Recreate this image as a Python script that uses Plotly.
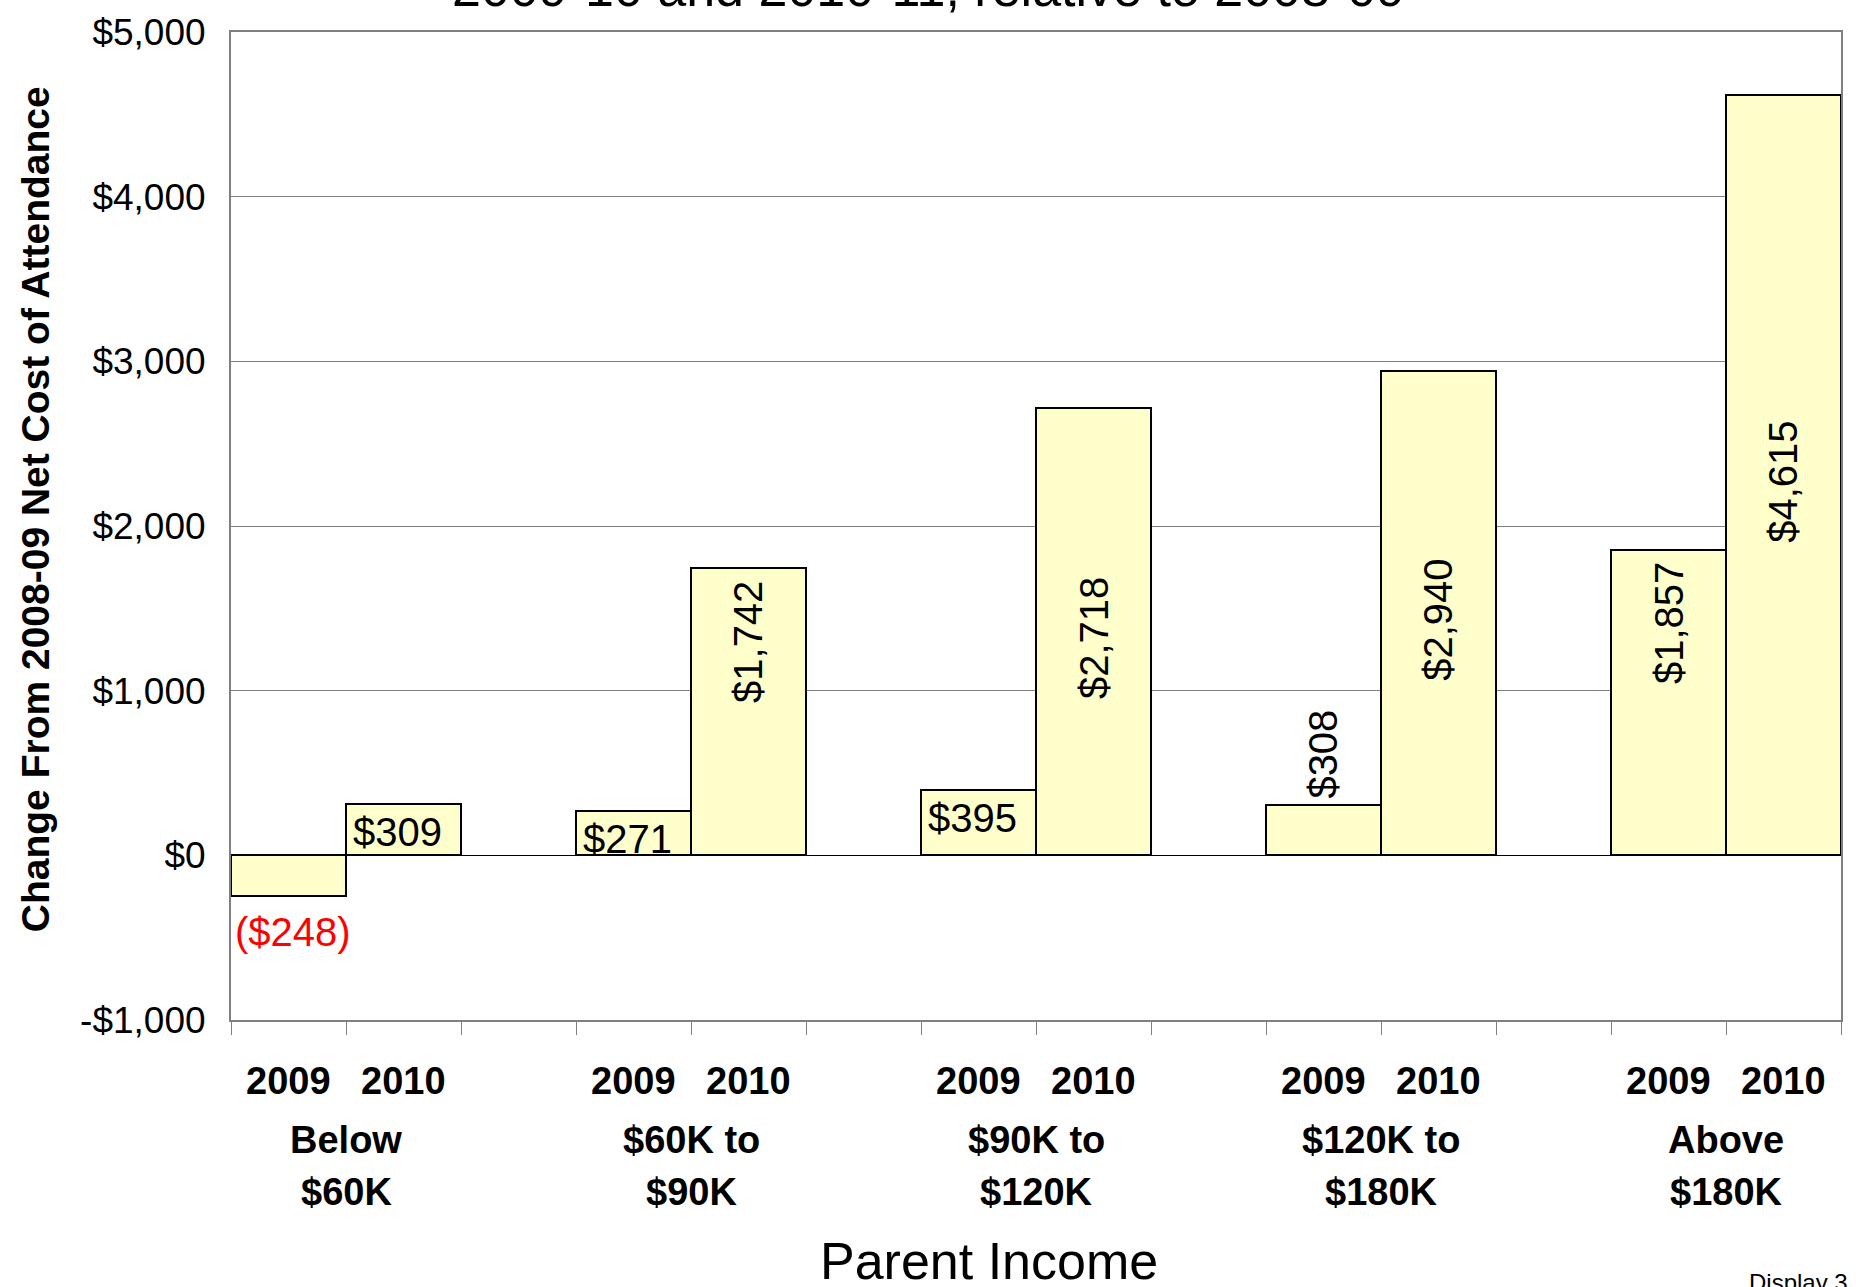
import plotly.graph_objects as go

# data
income_groups = [("Below", "$60K"), ("$60K to", "$90K"), ("$90K to", "$120K"),
                 ("$120K to", "$180K"), ("Above", "$180K")]
years = ["2009", "2010"]
change_2009 = [-248, 271, 395, 308, 1857]
change_2010 = [309, 1742, 2718, 2940, 4615]
y_ticks = [-1000, 0, 1000, 2000, 3000, 4000, 5000]

# how each value label sits on its bar
label_style_2009 = ["below", "in_top_h", "in_top_h", "above_v", "in_top_v"]
label_style_2010 = ["in_top_h", "in_top_v", "mid_v", "mid_v", "mid_v"]

FONT = "Arial, Liberation Sans, sans-serif"
BAR_FILL = "#FFFFCC"
GRID = "#808080"
N_SLOTS = 3 * len(income_groups) - 1


def money(v):
    return f"(${-v:,})" if v < 0 else f"${v:,}"


def bar_label(x, v, style):
    ann = dict(x=x, y=v, xref="x", yref="y", text=money(v), showarrow=False,
               font=dict(family=FONT, size=40, color="red" if v < 0 else "black"))
    if style == "below":
        ann.update(yanchor="middle", yshift=-36, xshift=4)
    elif style == "in_top_h":
        ann.update(yanchor="top", yshift=-4, xshift=-6)
    elif style == "above_v":
        ann.update(yanchor="bottom", yshift=4, textangle=-90)
    elif style == "in_top_v":
        ann.update(yanchor="top", yshift=-11, textangle=-90)
    elif style == "mid_v":
        ann.update(y=v / 2, yanchor="middle", yshift=-7, textangle=-90)
    return ann


fig = go.Figure()
annotations = []
for k, (vals, styles) in enumerate([(change_2009, label_style_2009), (change_2010, label_style_2010)]):
    xs = [3 * g + k + 0.5 for g in range(len(income_groups))]
    fig.add_trace(go.Bar(
        x=xs, y=vals, width=1, name=years[k],
        marker=dict(color=BAR_FILL, line=dict(color="black", width=2)),
        hoverinfo="y",
    ))
    for x, v, s in zip(xs, vals, styles):
        annotations.append(bar_label(x, v, s))
        annotations.append(dict(x=x, y=0, xref="x", yref="paper", text=f"<b>{years[k]}</b>",
                                showarrow=False, yanchor="middle", yshift=-61,
                                font=dict(family=FONT, size=38, color="black")))

for g, (line1, line2) in enumerate(income_groups):
    for txt, shift in [(line1, -120), (line2, -172)]:
        annotations.append(dict(x=3 * g + 1, y=0, xref="x", yref="paper", text=f"<b>{txt}</b>",
                                showarrow=False, yanchor="middle", yshift=shift,
                                font=dict(family=FONT, size=38, color="black")))

# axis titles, cut-off chart title and footer
annotations += [
    dict(x=0.471, y=0, xref="paper", yref="paper", text="Parent Income", showarrow=False,
         yanchor="middle", yshift=-241, font=dict(family=FONT, size=52, color="black")),
    dict(x=0, y=0.517, xref="paper", yref="paper", text="<b>Change From 2008-09 Net Cost of Attendance</b>",
         showarrow=False, textangle=-90, xanchor="center", yanchor="middle", xshift=-196,
         font=dict(family=FONT, size=39, color="black")),
    dict(x=0.433, y=1, xref="paper", yref="paper", text="2009-10 and 2010-11, relative to 2008-09",
         showarrow=False, yanchor="bottom", yshift=13, font=dict(family=FONT, size=52, color="black")),
    dict(x=0.9416, y=0, xref="paper", yref="paper", text="Display 3", showarrow=False,
         xanchor="left", yanchor="top", yshift=-247, font=dict(family=FONT, size=24, color="black")),
]

fig.update_xaxes(
    range=[0, N_SLOTS], tickvals=list(range(N_SLOTS + 1)), ticktext=[""] * (N_SLOTS + 1),
    ticks="outside", ticklen=13, tickwidth=1, tickcolor=GRID,
    showgrid=False, zeroline=False, showline=True, linecolor=GRID, linewidth=2, mirror=True,
)
fig.update_yaxes(
    range=[-1000, 5000], tickvals=y_ticks,
    ticktext=[("-$" if v < 0 else "$") + f"{abs(v):,}" for v in y_ticks],
    tickfont=dict(family=FONT, size=37, color="black"), ticklabelstandoff=16,
    showgrid=True, gridcolor=GRID, gridwidth=1,
    zeroline=True, zerolinecolor="black", zerolinewidth=1,
    showline=True, linecolor=GRID, linewidth=2, mirror=True,
)
fig.update_layout(
    width=1856, height=1287,
    margin=dict(l=231, r=15, t=24, b=267),
    plot_bgcolor="white", paper_bgcolor="white",
    showlegend=False, bargap=0, barmode="overlay",
    annotations=annotations,
    font=dict(family=FONT, color="black"),
)
fig.write_html("out.html", config={"displayModeBar": False},
               post_script="document.body.style.margin='0';")
